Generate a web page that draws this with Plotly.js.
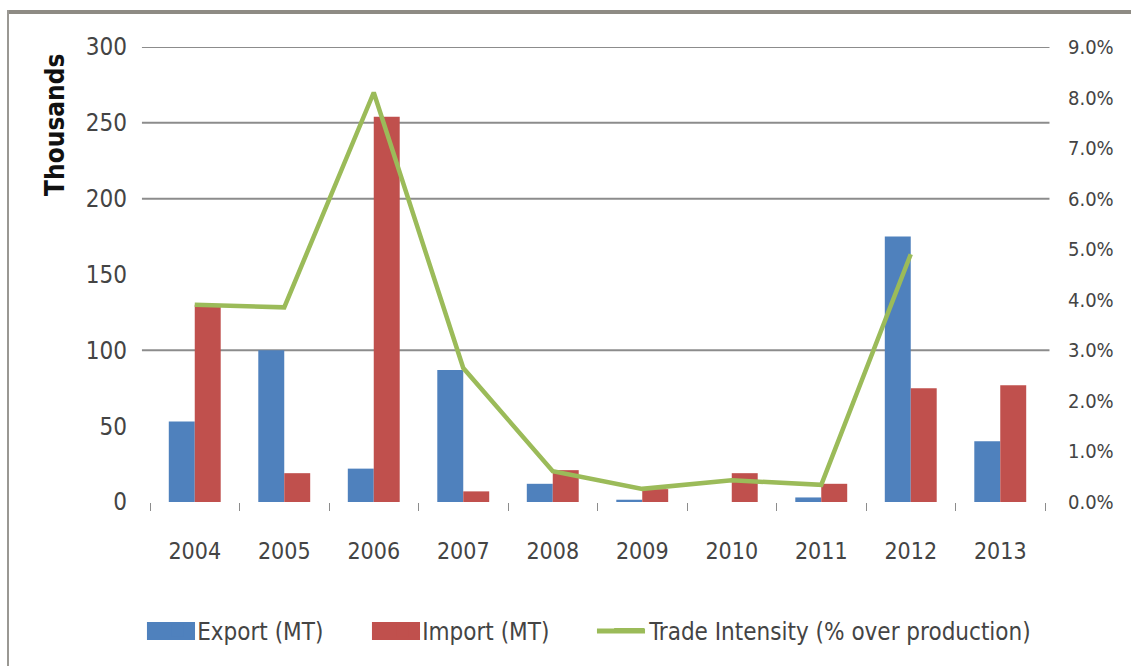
<!DOCTYPE html>
<html>
<head>
<meta charset="utf-8">
<script src="https://cdn.plot.ly/plotly-3.0.1.min.js"></script>
<style>
  html, body { margin: 0; padding: 0; background: #fff; }
  #wrap { position: relative; width: 1131px; height: 666px; overflow: hidden; }
  #chart { position: absolute; left: 0; top: 0; width: 1131px; height: 666px; }
  .bt { position: absolute; left: 7px; top: 10px; width: 1124px; height: 4px; background: #8e8b84; }
  .bl { position: absolute; left: 7px; top: 10px; width: 2px; height: 656px; background: #9a9893; }
</style>
</head>
<body>
<div id="wrap">
  <div id="chart"></div>
  <div class="bt"></div>
  <div class="bl"></div>
</div>
<script>
const years = ['2004','2005','2006','2007','2008','2009','2010','2011','2012','2013'];
const exportMT = [53, 100, 22, 87, 12, 1.5, 0, 3, 175, 40];
const importMT = [130, 19, 254, 7, 21, 8.5, 19, 12, 75, 77];
const tradeIntensity = [0.039, 0.0385, 0.081, 0.0265, 0.0061, 0.0026, 0.0043, 0.0034, 0.049, null];
const leftGrid = [100, 200, 250, 300];

const FONT = '"DejaVu Sans Condensed", "Liberation Sans", sans-serif';
const TXT = '#444444';
const BLUE = '#4f81bd', RED = '#c0504d', GREEN = '#9bbb59';

const traces = [
  { type: 'bar', name: 'Export (MT)', x: years, y: exportMT, marker: { color: BLUE }, yaxis: 'y', legend: 'legend' },
  { type: 'bar', name: 'Import (MT)', x: years, y: importMT, marker: { color: RED }, yaxis: 'y', legend: 'legend' },
  { type: 'scatter', mode: 'lines', name: 'Trade Intensity (% over production)', x: years, y: tradeIntensity,
    line: { color: GREEN, width: 4.5 }, yaxis: 'y2', connectgaps: false, legend: 'legend2' }
];

const shapes = leftGrid.map(v => ({
  type: 'line', xref: 'paper', yref: 'y', x0: -0.009, x1: 1.005, y0: v, y1: v,
  line: { color: '#8c8c8c', width: 2 }, layer: 'below'
}));
// enlarged legend swatches (Excel style)
shapes.push(
  { type: 'rect', xref: 'paper', yref: 'paper', x0: -0.0034, x1: 0.0503, y0: -0.3033, y1: -0.2637,
    fillcolor: BLUE, line: { width: 0 } },
  { type: 'rect', xref: 'paper', yref: 'paper', x0: 0.248, x1: 0.3017, y0: -0.3033, y1: -0.2637,
    fillcolor: RED, line: { width: 0 } },
  { type: 'line', xref: 'paper', yref: 'paper', x0: 0.4994, x1: 0.5531, y0: -0.2835, y1: -0.2835,
    line: { color: GREEN, width: 5 } }
);

const legendFont = { family: FONT, size: 24, color: TXT };

const layout = {
  width: 1131, height: 666,
  margin: { l: 150, r: 86, t: 47, b: 164 },
  paper_bgcolor: 'rgba(0,0,0,0)', plot_bgcolor: 'rgba(0,0,0,0)',
  font: { family: FONT, color: TXT, size: 24 },
  barmode: 'group', bargap: 0.42, bargroupgap: 0,
  showlegend: true,
  legend: { orientation: 'h', x: 0.008, xanchor: 'left', y: -0.283, yanchor: 'middle',
            entrywidth: 180, font: legendFont, bgcolor: 'rgba(0,0,0,0)' },
  legend2: { orientation: 'h', x: 0.513, xanchor: 'left', y: -0.283, yanchor: 'middle',
             font: legendFont, bgcolor: 'rgba(0,0,0,0)' },
  xaxis: { type: 'category', showgrid: false, zeroline: false, showline: false,
           ticks: 'outside', tickson: 'boundaries', ticklen: 8, tickcolor: '#8c8c8c', tickwidth: 1,
           ticklabelstandoff: 33, tickfont: { family: FONT, size: 23, color: TXT } },
  yaxis: { range: [0, 300], dtick: 50, showgrid: false, zeroline: false, showline: false,
           ticks: '', ticklabelstandoff: 22, tickfont: { family: FONT, size: 24, color: TXT } },
  yaxis2: { overlaying: 'y', side: 'right', range: [0, 0.09], dtick: 0.01, tickformat: '.1%',
            showgrid: false, zeroline: false, showline: false, ticks: '',
            ticklabelstandoff: 22, tickfont: { family: FONT, size: 20, color: TXT } },
  shapes: shapes,
  annotations: [{ text: '<b>Thousands</b>', xref: 'paper', yref: 'paper', x: -0.106, y: 0.829,
                  textangle: -90, showarrow: false, xanchor: 'center', yanchor: 'middle',
                  font: { family: FONT, size: 26, color: '#111' } }]
};

Plotly.newPlot('chart', traces, layout, { displayModeBar: false, staticPlot: true });
</script>
</body>
</html>
